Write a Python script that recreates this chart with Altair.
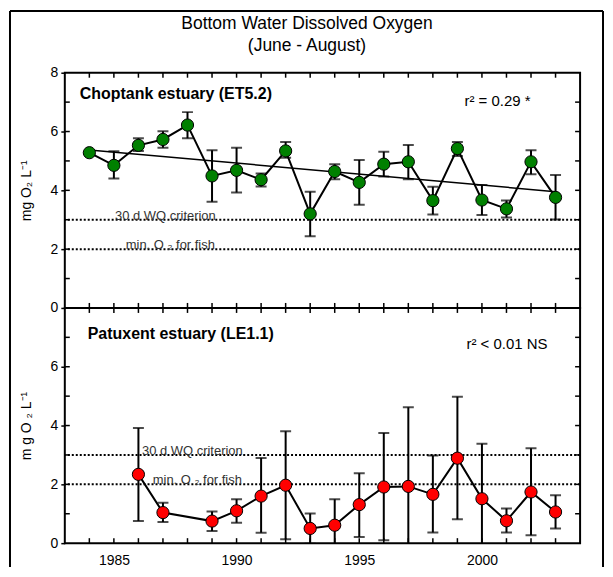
import altair as alt
import pandas as pd

# ---------------- data ----------------
years_top = [1984, 1985, 1986, 1987, 1988, 1989, 1990, 1991, 1992, 1993,
             1994, 1995, 1996, 1997, 1998, 1999, 2000, 2001, 2002, 2003]
do_top = [5.28, 4.85, 5.53, 5.73, 6.22, 4.49, 4.68, 4.36, 5.34, 3.20,
          4.64, 4.27, 4.89, 4.97, 3.65, 5.42, 3.67, 3.37, 4.97, 3.76]
hi_top = [5.28, 5.33, 5.77, 6.01, 6.66, 5.36, 5.45, 4.57, 5.64, 3.95,
          4.89, 5.03, 5.31, 5.54, 4.12, 5.64, 4.18, 3.65, 5.36, 4.52]
lo_top = [5.28, 4.40, 5.34, 5.45, 5.77, 3.61, 3.93, 4.13, 5.11, 2.44,
          4.38, 3.51, 4.47, 4.38, 3.18, 5.17, 3.16, 3.08, 4.55, 3.01]

years_bot = [1986, 1987, 1989, 1990, 1991, 1992, 1993, 1994, 1995, 1996,
             1997, 1998, 1999, 2000, 2001, 2002, 2003]
do_bot = [2.34, 1.04, 0.75, 1.10, 1.60, 1.97, 0.50, 0.61, 1.31, 1.91,
          1.93, 1.66, 2.89, 1.51, 0.76, 1.74, 1.06]
hi_bot = [3.92, 1.37, 1.08, 1.49, 2.90, 3.81, 1.01, 1.49, 2.38, 3.75,
          4.62, 2.98, 4.98, 3.38, 1.18, 3.23, 1.63]
lo_bot = [0.75, 0.72, 0.41, 0.69, 0.35, 0.13, -0.02, -0.27, 0.21, 0.10,
          -0.76, 0.36, 0.81, -0.36, 0.36, 0.27, 0.50]

tick_years = [1984, 1985, 1986, 1987, 1988, 1989, 1990, 1991, 1992, 1993,
              1994, 1995, 1996, 1997, 1998, 1999, 2000, 2001, 2002, 2003]
tick_vals = [1, 2, 3, 4, 5, 6, 7]
x_labels = [1985, 1990, 1995, 2000]
ref_vals = [3.0, 2.0]
title_lines = ["Bottom Water Dissolved Oxygen", "(June - August)"]

FONT = "Liberation Sans"
W, H = 517, 236
XDOM = [1983, 2004]
YDOM = [0, 8]

one = pd.DataFrame({"a": [0]})


def panel(years, vals, lo, hi, color, label, r2, ytitle, ylabels, show_x,
          label_pos, r2_pos, wq_x, fish_x, regression, extra=None):
    df = pd.DataFrame({"year": years, "do": vals, "lo": lo, "hi": hi})
    ty = pd.DataFrame({"year": tick_years})
    tv = pd.DataFrame({"do": tick_vals})
    refs = pd.DataFrame({"do": ref_vals})
    ann = pd.DataFrame({"year": [wq_x, fish_x], "do": ref_vals,
                        "t": ["30 d WQ criterion", "min. O ₂ for fish"]})

    xs = alt.Scale(domain=XDOM, nice=False, zero=False)
    ys = alt.Scale(domain=YDOM, nice=False)
    xax = alt.Axis(values=x_labels, format="d", ticks=False, domain=False,
                   labelFontSize=14, labelPadding=10, labelColor="black",
                   grid=False, title=None, labels=show_x, labelFont=FONT)
    yax = alt.Axis(values=ylabels, tickSize=4, tickWidth=1.5, tickColor="black",
                   domain=False, labelFontSize=14, labelPadding=3,
                   labelColor="black", grid=False, title=ytitle,
                   titleFontSize=14, titleFontWeight="normal",
                   titleColor="black", titlePadding=17, labelFont=FONT,
                   titleFont=FONT)
    X = alt.X("year:Q", scale=xs, axis=xax)
    Y = alt.Y("do:Q", scale=ys, axis=yax)

    base = alt.Chart(df)
    layers = [
        base.mark_rule(color="black", strokeWidth=2, clip=True)
        .encode(x=X, y=alt.Y("lo:Q", scale=ys, axis=yax), y2="hi:Q"),
    ]
    if extra is not None:
        layers += extra
    layers += [
        alt.Chart(refs).mark_rule(color="black", strokeWidth=2, strokeDash=[2, 2])
        .encode(y=Y),
        alt.Chart(ann).mark_text(fontSize=13, font=FONT, color="#333333",
                                 baseline="alphabetic", dy=0)
        .encode(x=X, y=Y, text="t:N"),
        alt.Chart(ty).mark_rule(color="black", strokeWidth=1.5)
        .encode(x=X, y=alt.value(0), y2=alt.value(5)),
        alt.Chart(ty).mark_rule(color="black", strokeWidth=1.5)
        .encode(x=X, y=alt.value(H - 5), y2=alt.value(H)),
        alt.Chart(tv).mark_rule(color="black", strokeWidth=1.5)
        .encode(y=Y, x=alt.value(0), x2=alt.value(5)),
        alt.Chart(tv).mark_rule(color="black", strokeWidth=1.5)
        .encode(y=Y, x=alt.value(W - 5), x2=alt.value(W)),
        base.mark_tick(color="black", orient="horizontal", size=11, thickness=2,
                       clip=True)
        .encode(x=X, y=alt.Y("hi:Q", scale=ys, axis=yax)),
        base.mark_tick(color="black", orient="horizontal", size=11, thickness=2,
                       clip=True)
        .encode(x=X, y=alt.Y("lo:Q", scale=ys, axis=yax)),
        base.mark_line(color="black", strokeWidth=2).encode(x=X, y=Y),
    ]
    if regression:
        layers.append(
            base.transform_regression("year", "do", extent=[1984, 2003])
            .mark_line(color="black", strokeWidth=1.5)
            .encode(x=X, y=Y)
        )
    layers += [
        base.mark_circle(size=150, color=color, stroke="black", strokeWidth=1,
                         opacity=1).encode(x=X, y=Y),
        alt.Chart(one).mark_text(text=label, fontSize=16, fontWeight="bold",
                                 font=FONT, align="left", baseline="middle",
                                 color="black")
        .encode(x=alt.value(label_pos[0]), y=alt.value(label_pos[1])),
        alt.Chart(one).mark_text(text=r2, fontSize=15, font=FONT, align="left",
                                 baseline="middle", color="black")
        .encode(x=alt.value(r2_pos[0]), y=alt.value(r2_pos[1])),
    ]
    return alt.layer(*layers).properties(width=W, height=H)


# decoration for the top panel: figure frame and title
frame = [
    alt.Chart(one).mark_rule(color="black", strokeWidth=2)
    .encode(x=alt.value(-55), y=alt.value(-62), y2=alt.value(496)),
    alt.Chart(one).mark_rule(color="black", strokeWidth=2)
    .encode(x=alt.value(-55), x2=alt.value(540), y=alt.value(-62)),
    alt.Chart(one).mark_rule(color="black", strokeWidth=2)
    .encode(x=alt.value(540), y=alt.value(-62), y2=alt.value(496)),
    alt.Chart(one).mark_text(text=title_lines[0], fontSize=17.5, font=FONT,
                             align="center", baseline="middle", color="black")
    .encode(x=alt.value(243), y=alt.value(-49)),
    alt.Chart(one).mark_text(text=title_lines[1], fontSize=17.5, font=FONT,
                             align="center", baseline="middle", color="black")
    .encode(x=alt.value(243), y=alt.value(-27)),
]

top = panel(years_top, do_top, lo_top, hi_top, "#008000",
            "Choptank estuary (ET5.2)", "r² = 0.29 *", "mg O₂ L⁻¹",
            [0, 2, 4, 6, 8], False, (15, 21), (401, 28), 1987.1, 1987.3,
            True, extra=frame)
bottom = panel(years_bot, do_bot, lo_bot, hi_bot, "#ff0000",
               "Patuxent estuary (LE1.1)", "r² < 0.01 NS", "m g  O ₂ L⁻¹",
               [0, 2, 4, 6], True, (23, 26), (403, 36), 1988.2, 1988.4,
               False)

chart = alt.vconcat(top, bottom, spacing=0, bounds="flush").properties(
    padding=0, background="white"
).configure_view(stroke="black", strokeWidth=2)

chart.save("out.html", embed_options={"renderer": "svg", "actions": False})
